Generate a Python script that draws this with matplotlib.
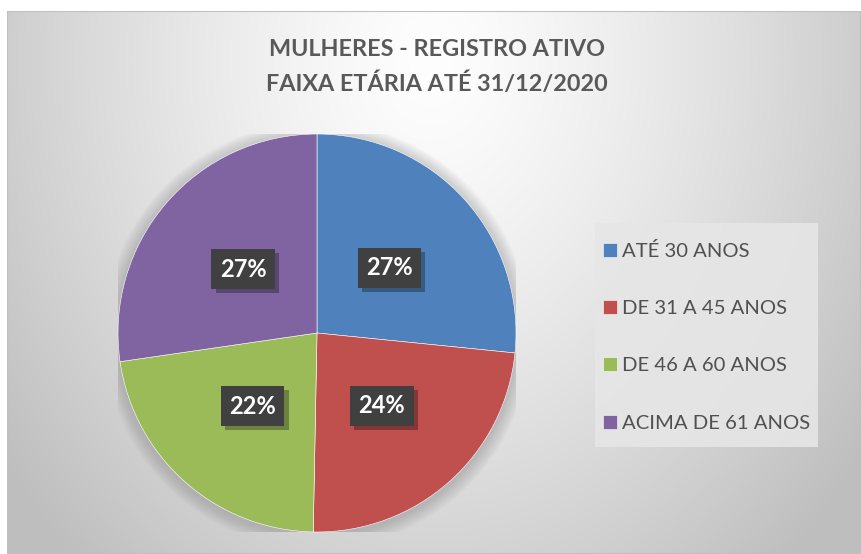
import numpy as np
import matplotlib
matplotlib.use("Agg")
import matplotlib.pyplot as plt
from matplotlib.patches import Rectangle, Circle
import matplotlib.patheffects as pe

categories = ["ATÉ 30 ANOS", "DE 31 A 45 ANOS", "DE 46 A 60 ANOS", "ACIMA DE 61 ANOS"]
values = [26.6, 23.7, 22.4, 27.3]
colors = ["#4F81BD", "#C0504D", "#9BBB59", "#8064A2"]
title_lines = ["MULHERES - REGISTRO ATIVO", "FAIXA ETÁRIA ATÉ 31/12/2020"]

W, H = 861, 554
fig = plt.figure(figsize=(W / 100, H / 100), dpi=100)
fig.patch.set_facecolor("white")

# background gradient of chart area
x0, y0 = 7, 11  # px from left, top
bg = fig.add_axes([x0 / W, 0, (W - x0) / W, (H - y0) / H])
bg.set_axis_off()
yy, xx = np.mgrid[y0:H, x0:W]
d = np.sqrt(((xx - 430) / 440.0) ** 2 + ((yy - 60) / 560.0) ** 2)
val = 254 - 50 * np.clip(d, 0, 1.2) ** 1.3
img = np.dstack([val, val, val]) / 255.0
bg.imshow(img, aspect="auto", extent=[0, 1, 0, 1], origin="upper")
bg.set_xlim(0, 1)
bg.set_ylim(0, 1)
bg.add_patch(Rectangle((0, 0), 1, 1, transform=bg.transAxes, fill=False,
                       edgecolor="#bfbfbf", linewidth=1.5))

# legend background box
fig.patches.append(Rectangle((595 / W, 1 - 447 / H), (818 - 595) / W, (447 - 223) / H,
                             transform=fig.transFigure, facecolor="#e6e6e6",
                             edgecolor="none", alpha=0.9, zorder=1))

# title
tx = 437 / W
fig.text(tx, 1 - 50 / H, title_lines[0], ha="center", va="center",
         fontsize=16.8, fontweight="bold", color="#595959", family="Lato")
fig.text(tx, 1 - 84 / H, title_lines[1], ha="center", va="center",
         fontsize=16.8, fontweight="bold", color="#595959", family="Lato")

# pie
cx, cy, r = 317, 333, 199
ax = fig.add_axes([(cx - r) / W, (H - cy - r) / H, 2 * r / W, 2 * r / H])
ax.set_xlim(-1, 1)
ax.set_ylim(-1, 1)
ax.set_aspect("equal")
ax.set_axis_off()
# soft shadow
for i in range(12):
    rr = 1.0 + 0.006 * (i + 1)
    ax.add_patch(Circle((0.0, -0.012), rr, facecolor="#808080", alpha=0.035,
                        edgecolor="none", zorder=0))
wedges, texts, autotexts = ax.pie(
    values, colors=colors, startangle=90, counterclock=False, radius=1.0,
    autopct="%1.0f%%", pctdistance=0.49,
    wedgeprops=dict(edgecolor="white", linewidth=0.4),
    textprops=dict(color="white", fontsize=17, fontweight="bold", family="Lato"))
ax.set_xlim(-1, 1)
ax.set_ylim(-1, 1)
for t in autotexts:
    t.set_bbox(dict(boxstyle="square,pad=0.36", facecolor="#404040", edgecolor="none"))
    t.get_bbox_patch().set_path_effects(
        [pe.SimplePatchShadow(offset=(3, -3), shadow_rgbFace="black", alpha=0.3),
         pe.Normal()])
    t.set_zorder(5)

# legend
leg = fig.legend(wedges, categories, loc="upper left",
                 bbox_to_anchor=(603 / W, 1 - 242 / H),
                 frameon=False,
                 handlelength=0.68, handleheight=0.68, handletextpad=0.25,
                 labelspacing=1.98, borderpad=0, borderaxespad=0,
                 prop=dict(family="Lato", size=14.6))
for t in leg.get_texts():
    t.set_color("#505050")

fig.savefig("out.png", dpi=100)
